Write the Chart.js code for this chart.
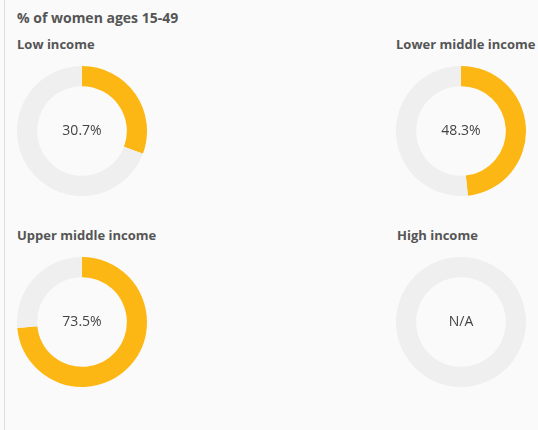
<!DOCTYPE html>
<html>
<head>
<meta charset="utf-8">
<script src="https://cdn.jsdelivr.net/npm/chart.js@4"></script>
<style>
  html, body { margin: 0; padding: 0; background: #fafafa; }
  body { width: 538px; height: 430px; position: relative; overflow: hidden; font-family: "Open Sans", sans-serif; }
  .rule { position: absolute; left: 4px; top: 0; width: 1px; height: 430px; background: #dcdfe6; }
  .title { position: absolute; left: 17px; top: 8px; font-size: 14px; font-weight: bold; color: #555; }
  .label { position: absolute; font-size: 13px; font-weight: bold; color: #555; white-space: nowrap; }
  canvas { position: absolute; }
</style>
</head>
<body>
<div class="rule"></div>
<div class="title">% of women ages 15-49</div>
<div class="label" style="left:17px;top:35px">Low income</div>
<div class="label" style="left:396px;top:35px">Lower middle income</div>
<div class="label" style="left:17px;top:226px">Upper middle income</div>
<div class="label" style="left:397px;top:226px">High income</div>
<canvas id="c0" width="130" height="130" style="left:17px;top:66px"></canvas>
<canvas id="c1" width="130" height="130" style="left:396px;top:66px"></canvas>
<canvas id="c2" width="130" height="130" style="left:17px;top:257px"></canvas>
<canvas id="c3" width="130" height="130" style="left:396px;top:257px"></canvas>
<script>
// income groups and share of women (null = no data)
const groups = ["Low income", "Lower middle income", "Upper middle income", "High income"];
const shares = [30.7, 48.3, 73.5, null];

const gold = '#FDB714';
const grey = '#EFEFEF';

// draws the value in the middle of the ring
const centerText = {
    id: 'centerText',
    afterDraw(chart, args, opts) {
        const ctx = chart.ctx;
        const area = chart.chartArea;
        ctx.save();
        ctx.font = '14px "Open Sans"';
        ctx.fillStyle = '#444';
        ctx.textAlign = 'center';
        ctx.textBaseline = 'middle';
        ctx.fillText(opts.text, (area.left + area.right) / 2, (area.top + area.bottom) / 2);
        ctx.restore();
    }
};

groups.forEach(function(name, i) {
    const v = shares[i];
    const hasData = v !== null;
    new Chart(document.getElementById('c' + i).getContext('2d'), {
        type: 'doughnut',
        data: {
            labels: [name, 'Other'],
            datasets: [{
                data: hasData ? [v, 100 - v] : [0, 100],
                backgroundColor: [gold, grey],
                borderWidth: 0
            }]
        },
        options: {
            responsive: false,
            animation: false,
            cutout: '69%',
            layout: { padding: 0 },
            plugins: {
                legend: { display: false },
                tooltip: { enabled: false },
                centerText: { text: hasData ? v.toFixed(1) + '%' : 'N/A' }
            }
        },
        plugins: [centerText]
    });
});
</script>
</body>
</html>
